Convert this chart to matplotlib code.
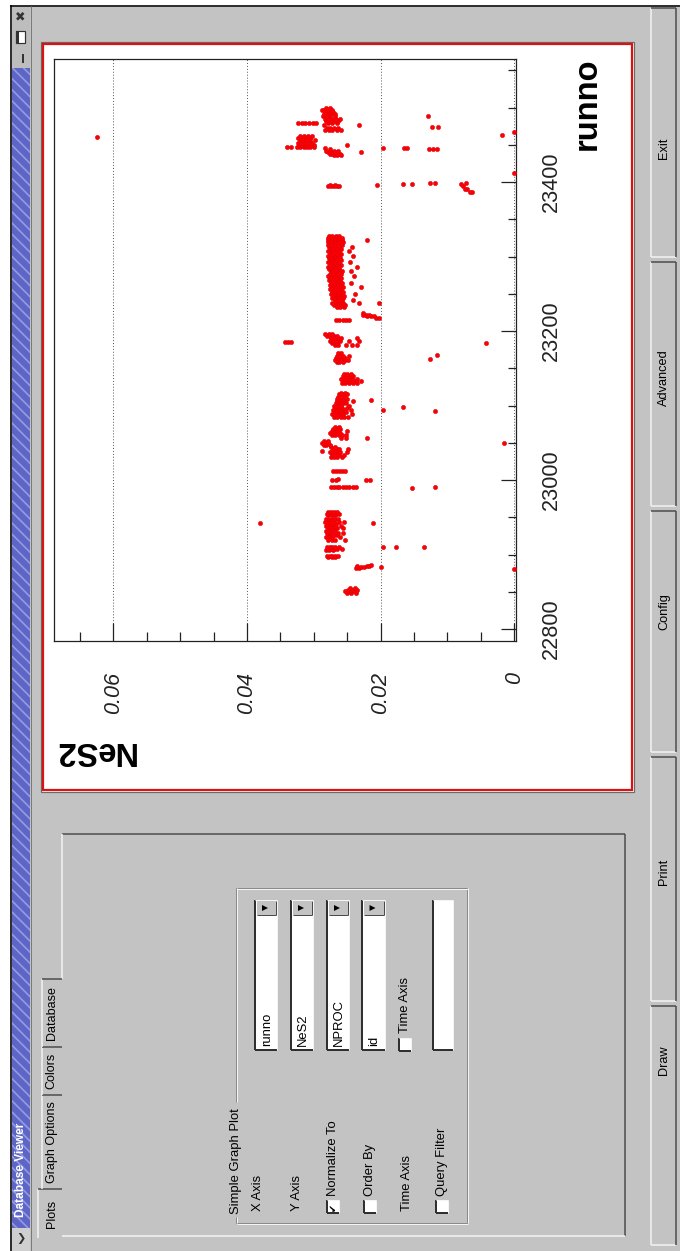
import matplotlib
matplotlib.use("Agg")
import matplotlib.pyplot as plt
from matplotlib.patches import Rectangle, Polygon

plt.rcParams['font.family'] = ['Liberation Sans', 'DejaVu Sans']
plt.rcParams['hatch.linewidth'] = 1.2

# ---- data (runno -> NeS2 values) ----
run_ids = [22849, 22851, 22853, 22855, 22880, 22882, 22883, 22885, 22886,
           22896, 22898, 22906, 22908, 22910, 22920, 22923, 22926, 22929,
           22932, 22935, 22938, 22941, 22942, 22944, 22947, 22953, 22955, 22957,
           22989, 22990, 22991, 23000, 23001, 23012, 23031, 23034, 23037, 23039,
           23042, 23044, 23047, 23050, 23053, 23056, 23060, 23063, 23066, 23069,
           23071, 23085, 23088, 23091, 23093, 23094, 23097, 23098, 23100, 23103,
           23106, 23107, 23109, 23112, 23115, 23117, 23130, 23133, 23136, 23139,
           23142, 23158, 23161, 23163, 23164, 23167, 23168, 23170, 23181, 23184,
           23185, 23187, 23190, 23193, 23196, 23215, 23218, 23220, 23222, 23224,
           23232, 23235, 23237, 23238, 23241, 23244, 23247, 23250, 23253, 23256,
           23259, 23262, 23265, 23268, 23271, 23274, 23277, 23280, 23283, 23286,
           23289, 23292, 23295, 23298, 23301, 23304, 23307, 23310, 23313, 23316,
           23319, 23322, 23325, 23328,
           23387, 23390, 23394, 23396, 23397, 23399, 23412, 23436, 23438, 23440,
           23442, 23444, 23445, 23447, 23450, 23453, 23456, 23459, 23460, 23462,
           23463, 23467, 23470, 23473, 23474, 23476, 23479, 23482, 23485, 23488,
           23491, 23494, 23497, 23500]

nes2_by_run = [
    [0.0237, 0.0244, 0.0250], [0.0240, 0.0247, 0.0253], [0.0236, 0.0243, 0.0249],
    [0.0239, 0.0246], [0.0001], [0.0237, 0.0233], [0.0229, 0.0225, 0.0199],
    [0.0221, 0.0217, 0.0236], [0.0214],
    [0.0278, 0.0273, 0.0269], [0.0280, 0.0276, 0.0272, 0.0268, 0.0264],
    [0.0281, 0.0277, 0.0271], [0.0279, 0.0274, 0.0270, 0.0265, 0.0258],
    [0.0280, 0.0276, 0.0272, 0.0268, 0.0263, 0.0196, 0.0177, 0.0135],
    [0.0278, 0.0273, 0.0269, 0.0254], [0.0281, 0.0277, 0.0272, 0.0261],
    [0.0279, 0.0275, 0.0270, 0.0266], [0.0280, 0.0276, 0.0272, 0.0264, 0.0256],
    [0.0282, 0.0278, 0.0273, 0.0268], [0.0279, 0.0274, 0.0270, 0.0266, 0.0257],
    [0.0281, 0.0277, 0.0273, 0.0268, 0.0260], [0.0280, 0.0276, 0.0271, 0.0267],
    [0.0380, 0.0211], [0.0283, 0.0279, 0.0275, 0.0270, 0.0262, 0.0255],
    [0.0281, 0.0277, 0.0272, 0.0268, 0.0264], [0.0278, 0.0273, 0.0268],
    [0.0280, 0.0276, 0.0271, 0.0267, 0.0263], [0.0279, 0.0274, 0.0270, 0.0266],
    [0.0153], [0.0274, 0.0270, 0.0266, 0.0262, 0.0257, 0.0252, 0.0247, 0.0242, 0.0237],
    [0.0118], [0.0272, 0.0267, 0.0222, 0.0216], [0.0264],
    [0.0271, 0.0267, 0.0263, 0.0258, 0.0254], [0.0274, 0.0270, 0.0265, 0.0258],
    [0.0272, 0.0268, 0.0263, 0.0255], [0.0275, 0.0270, 0.0266, 0.0261, 0.0250],
    [0.0287, 0.0273, 0.0268], [0.0271, 0.0266, 0.0262, 0.0249], [0.0274, 0.0269],
    [0.0285, 0.0281, 0.0276], [0.0287, 0.0283, 0.0278, 0.0016], [0.0284, 0.0279],
    [0.0259, 0.0252, 0.0220], [0.0272, 0.0268, 0.0263, 0.0258, 0.0252],
    [0.0275, 0.0270, 0.0266, 0.0261], [0.0273, 0.0268, 0.0264, 0.0250],
    [0.0271, 0.0266, 0.0261], [0.0268, 0.0262],
    [0.0270, 0.0265, 0.0260, 0.0255, 0.0249], [0.0272, 0.0267, 0.0262, 0.0257, 0.0243],
    [0.0269, 0.0264, 0.0259, 0.0252], [0.0118],
    [0.0271, 0.0266, 0.0261, 0.0255, 0.0245, 0.0197], [0.0268, 0.0263, 0.0258, 0.0250],
    [0.0166], [0.0270, 0.0265, 0.0260, 0.0247], [0.0267, 0.0262, 0.0257, 0.0252],
    [0.0265, 0.0260, 0.0255, 0.0242], [0.0215], [0.0266, 0.0261, 0.0256, 0.0250],
    [0.0264, 0.0259, 0.0253], [0.0262, 0.0257, 0.0251], [0.0259, 0.0254],
    [0.0258, 0.0253, 0.0248, 0.0242, 0.0236], [0.0256, 0.0251, 0.0246, 0.0240, 0.0229],
    [0.0259, 0.0254, 0.0249, 0.0243, 0.0235], [0.0257, 0.0252, 0.0246, 0.0241],
    [0.0255, 0.0250, 0.0244], [0.0266, 0.0262, 0.0257],
    [0.0268, 0.0264, 0.0259, 0.0254, 0.0249], [0.0126], [0.0267, 0.0263, 0.0258, 0.0253],
    [0.0265, 0.0261, 0.0256, 0.0248], [0.0115], [0.0264, 0.0259],
    [0.0269, 0.0264, 0.0252, 0.0243, 0.0236], [0.0272, 0.0266, 0.0043],
    [0.0343, 0.0338, 0.0334], [0.0276, 0.0271, 0.0266, 0.0261, 0.0247, 0.0232],
    [0.0274, 0.0269, 0.0264, 0.0259, 0.0236], [0.0280, 0.0275, 0.0270, 0.0265],
    [0.0283, 0.0277, 0.0272], [0.0267, 0.0262, 0.0257, 0.0252, 0.0247],
    [0.0207, 0.0202], [0.0220, 0.0215, 0.0210], [0.0226, 0.0222, 0.0217], [0.0227],
    [0.0266, 0.0261, 0.0255], [0.0270, 0.0265, 0.0260, 0.0254], [0.0202, 0.0232],
    [0.0272, 0.0267, 0.0262, 0.0257], [0.0269, 0.0264, 0.0258, 0.0241],
    [0.0273, 0.0268, 0.0263, 0.0256], [0.0271, 0.0266, 0.0261, 0.0255],
    [0.0274, 0.0269, 0.0264, 0.0258, 0.0238], [0.0272, 0.0267, 0.0262, 0.0256],
    [0.0275, 0.0270, 0.0265, 0.0259], [0.0273, 0.0268, 0.0263, 0.0257, 0.0229],
    [0.0276, 0.0271, 0.0266, 0.0260], [0.0274, 0.0269, 0.0264, 0.0258, 0.0244],
    [0.0277, 0.0272, 0.0267, 0.0261], [0.0275, 0.0270, 0.0265, 0.0259],
    [0.0278, 0.0273, 0.0268, 0.0262, 0.0240], [0.0276, 0.0271, 0.0266, 0.0260],
    [0.0274, 0.0269, 0.0264, 0.0258, 0.0245], [0.0277, 0.0272, 0.0267, 0.0262],
    [0.0279, 0.0274, 0.0269, 0.0263, 0.0236], [0.0276, 0.0271, 0.0266, 0.0260],
    [0.0278, 0.0273, 0.0268, 0.0262, 0.0246], [0.0275, 0.0270, 0.0265, 0.0259],
    [0.0277, 0.0272, 0.0267, 0.0261], [0.0279, 0.0274, 0.0269, 0.0263, 0.0242],
    [0.0276, 0.0271, 0.0266, 0.0260], [0.0278, 0.0273, 0.0268, 0.0262, 0.0248],
    [0.0275, 0.0270, 0.0265, 0.0259], [0.0277, 0.0272, 0.0267, 0.0261, 0.0243],
    [0.0279, 0.0274, 0.0269, 0.0264, 0.0258], [0.0278, 0.0273, 0.0268, 0.0263, 0.0257],
    [0.0279, 0.0274, 0.0269, 0.0264, 0.0258, 0.0220],
    [0.0278, 0.0273, 0.0268, 0.0263, 0.0258], [0.0277, 0.0272, 0.0267, 0.0262],
    [0.0063, 0.0067], [0.0071, 0.0074], [0.0278, 0.0274, 0.0270, 0.0266, 0.0262, 0.0077],
    [0.0205, 0.0276, 0.0268], [0.0166, 0.0153, 0.0080], [0.0126, 0.0118, 0.0072],
    [0.0000], [0.0270, 0.0265, 0.0259], [0.0276, 0.0272, 0.0266, 0.0261],
    [0.0278, 0.0273, 0.0268, 0.0229], [0.0282, 0.0270, 0.0264],
    [0.0128, 0.0122, 0.0116, 0.0275], [0.0283, 0.0196, 0.0165, 0.0160],
    [0.0340, 0.0334, 0.0325, 0.0320, 0.0315, 0.0310, 0.0305, 0.0299],
    [0.0322, 0.0317, 0.0312, 0.0306, 0.0300, 0.0251],
    [0.0324, 0.0319, 0.0314, 0.0308, 0.0302], [0.0321, 0.0316, 0.0311, 0.0305, 0.0298],
    [0.0323, 0.0318, 0.0312, 0.0306], [0.0625], [0.0320, 0.0315, 0.0309, 0.0303],
    [0.0019], [0.0000], [0.0283, 0.0277, 0.0272, 0.0266, 0.0260],
    [0.0280, 0.0275, 0.0270, 0.0264], [0.0123, 0.0114], [0.0232, 0.0284],
    [0.0323, 0.0318, 0.0313, 0.0307, 0.0301, 0.0296, 0.0278, 0.0272, 0.0266],
    [0.0281, 0.0276, 0.0270, 0.0264], [0.0283, 0.0278, 0.0273, 0.0267, 0.0261],
    [0.0286, 0.0280, 0.0275, 0.0268, 0.0129], [0.0284, 0.0279, 0.0274, 0.0268],
    [0.0282, 0.0277, 0.0271], [0.0288, 0.0284, 0.0279, 0.0273], [0.0281, 0.0276],
]

runno_ticks = [22800, 23000, 23200, 23400]
nes2_ticks = [0, 0.02, 0.04, 0.06]
nes2_labels = ['0', '0.02', '0.04', '0.06']

tabs = ['Plots', 'Graph Options', 'Colors', 'Database']
row_labels = ['X Axis', 'Y Axis', 'Normalize To', 'Order By', 'Time Axis', 'Query Filter']
combo_values = ['runno', 'NeS2', 'NPROC', 'id']
buttons = ['Exit', 'Advanced', 'Config', 'Print', 'Draw']

# ---- figure, drawn in screen pixels (the screenshot is turned 90 degrees) ----
W, H = 680, 1251
GRAY = '#c3c3c3'
DARK = '#4a4a4a'
LIGHT = '#f4f4f4'
fig = plt.figure(figsize=(W / 100, H / 100), dpi=100)
fig.patch.set_facecolor(GRAY)
gui = fig.add_axes([0, 0, 1, 1], zorder=0)
gui.set_xlim(0, W)
gui.set_ylim(H, 0)
gui.axis('off')
PX = 0.72  # one pixel in points


def box(x0, y0, x1, y1, fc='none', ec='none', lw=1.0, z=1, **kw):
    gui.add_patch(Rectangle((x0, y0), x1 - x0, y1 - y0, facecolor=fc,
                            edgecolor=ec, lw=lw * PX, zorder=z, **kw))


def seg(x0, y0, x1, y1, c, lw=1.0, z=2):
    gui.plot([x0, x1], [y0, y1], color=c, lw=lw * PX, zorder=z,
             solid_capstyle='butt')


def raised(x0, y0, x1, y1, lw=1.0):
    seg(x0, y0, x0, y1, LIGHT, lw)
    seg(x0, y1, x1, y1, LIGHT, lw)
    seg(x0, y0, x1, y0, DARK, lw)
    seg(x1, y0, x1, y1, DARK, lw)


def sunken(x0, y0, x1, y1, fc='white'):
    box(x0, y0, x1, y1, fc=fc)
    seg(x0, y0, x0, y1, '#303030', 2)
    seg(x0, y1, x1, y1, '#303030', 2)
    seg(x0, y0, x1, y0, LIGHT, 1)
    seg(x1, y0, x1, y1, LIGHT, 1)


def vtext(x, y, s, size=9.4, va='bottom', **kw):
    gui.text(x, y, s, rotation=90, ha='center', va=va, fontsize=size,
             color='black', zorder=5, **kw)


# outside of the window and its frame
box(0, 0, W, 5, fc='white', z=0.5)
box(0, 0, 10, H, fc='white', z=0.5)
seg(10.5, 5, 10.5, H, 'black', 1.5)
seg(10, 5.5, W, 5.5, 'black', 1.5)

# title bar on the left
box(11.5, 6, 30, 68, fc='#bdbdbd', z=1)
box(11.5, 68, 30, 1228, fc='#5d66c6', ec='#959be0', lw=0, hatch='\\\\\\', z=1)
box(11.5, 1228, 30, H, fc='#cfcfcf', z=1)
seg(30.5, 6, 30.5, H, '#7a7a7a', 1)
gui.text(20.5, 17, '\u2716', ha='center', va='center', fontsize=9,
         family='DejaVu Sans', color='#333333', zorder=5)
box(16, 31, 25, 43, fc='white', ec='#333333', lw=1.2, z=3)
box(16, 31, 19, 43, fc='#333333', z=3)
box(21.5, 54, 24, 63, fc='#333333', z=3)
gui.text(20.5, 1239, '\u276F', ha='center', va='center', fontsize=8,
         family='DejaVu Sans', color='#333333', zorder=5, fontweight='bold')
gui.text(21, 1217, 'Database Viewer', rotation=90, ha='center', va='bottom',
         fontsize=8.6, fontweight='bold', color='white', zorder=5)

# embedded canvas with the red frame
box(41, 42, 634, 792, fc='white', ec='#6a6a6a', lw=1.2, z=1)
box(43, 44, 632, 790, fc='none', ec='#dd1111', lw=2.2, z=2)

# tab panel
seg(62, 834, 625, 834, DARK, 1.5)
seg(625, 834, 625, 1236, DARK, 1.5)
seg(62, 834, 62, 979, LIGHT, 1.5)
seg(62, 1236, 625, 1236, LIGHT, 1.5)
tab_edges = [(1189, 1238), (1095, 1189), (1047, 1095), (979, 1047)]
for name, (t0, t1) in zip(tabs, tab_edges):
    x0 = 38 if name == 'Plots' else 42
    box(x0, t0, 62, t1, fc=GRAY, z=1)
    seg(x0, t0, x0, t1, LIGHT, 1.5)
    seg(x0, t0, 62, t0, DARK, 1.5)
    vtext(51.5, (t0 + t1) / 2, name, size=9, va='center')

# group box
for off, c in [(0, '#8a8a8a'), (1, LIGHT)]:
    seg(467 + off, 888, 467 + off, 1223, c, 1)
    seg(236 + off, 888 + off, 467 + off, 888 + off, c, 1)
    seg(236 + off, 1223 + off, 467 + off, 1223 + off, c, 1)
    seg(236 + off, 888, 236 + off, 1102, c, 1)
    seg(236 + off, 1217, 236 + off, 1223, c, 1)
vtext(236, 1214, 'Simple Graph Plot')

label_x = [258, 297, 333, 370, 407, 442]
checked = {'Normalize To': True, 'Order By': False, 'Query Filter': False}
for name, x in zip(row_labels, label_x):
    if name in checked:
        sunken(x - 6, 1200, x + 6, 1213)
        if checked[name]:
            gui.text(x, 1206.5, '\u2714', rotation=90, ha='center', va='center',
                     fontsize=7, family='DejaVu Sans', color='black', zorder=5)
        vtext(x, 1196, name)
    else:
        vtext(x, 1211, name)

combo_x = [(255, 277), (291, 313), (327, 349), (362, 385)]
for val, (x0, x1) in zip(combo_values, combo_x):
    sunken(x0, 900, x1, 1050)
    box(x0 + 2, 901, x1 - 1, 915, fc=GRAY, z=2)
    seg(x0 + 2, 915, x1 - 1, 915, DARK, 1)
    seg(x1 - 1, 901, x1 - 1, 915, DARK, 1)
    xm = (x0 + x1) / 2
    gui.add_patch(Polygon([[xm - 4, 905], [xm - 4, 911], [xm + 2, 908]],
                          closed=True, fc='black', ec='none', zorder=3))
    vtext(xm + 1, 1046, val)

sunken(399, 1038, 411, 1051)
vtext(405, 1033, 'Time Axis')
sunken(433, 900, 453, 1050)

# buttons along the right edge
btn_edges = [(8, 257), (262, 506), (511, 752), (757, 1001), (1006, 1245)]
btn_label_y = [148, 378, 612, 872, 1060]
for name, (b0, b1), ly in zip(buttons, btn_edges, btn_label_y):
    raised(651, b0, 676, b1, lw=1.5)
    vtext(664, ly, name, size=9.2, va='center')

# ---- the plot itself ----
fx0, fx1, fy0, fy1 = 54, 516, 59, 641
ax = fig.add_axes([fx0 / W, 1 - fy1 / H, (fx1 - fx0) / W, (fy1 - fy0) / H], zorder=2)
ax.set_facecolor('white')

xs, ys = [], []
for r, vals in zip(run_ids, nes2_by_run):
    for v in vals:
        xs.append(v)
        ys.append(r)
ax.plot(xs, ys, 'o', ms=3.0, mfc='#ff0000', mec='#e00010', mew=0.4,
        linestyle='none', zorder=3)

ax.set_xlim(0.06886, -0.00025)
ax.set_ylim(22783.9, 23565.1)

ax.set_xticks(nes2_ticks, labels=nes2_labels)
ax.set_xticks([0.005 * i for i in range(1, 14)], minor=True)
ax.set_yticks(runno_ticks)
ax.set_yticks([22800 + 50 * i for i in range(0, 16)], minor=True)
ax.yaxis.tick_right()
ax.grid(axis='x', which='major', color='#555555', lw=0.7,
        linestyle=(0, (1, 2)), zorder=1)

ax.tick_params(axis='x', which='major', direction='in', length=13, width=0.9,
               pad=22, labelsize=15.6, labelrotation=90, colors='#222222')
ax.tick_params(axis='x', which='minor', direction='in', length=6.5, width=0.9,
               colors='#222222')
ax.tick_params(axis='y', which='major', direction='in', length=10.8, width=0.9,
               pad=18, labelsize=15.6, labelrotation=90, colors='#222222')
ax.tick_params(axis='y', which='minor', direction='in', length=5.8, width=0.9,
               colors='#222222')
for t in ax.get_xticklabels():
    t.set_fontstyle('italic')
    t.set_va('top')
for t in ax.get_yticklabels():
    t.set_va('center')
for sp in ax.spines.values():
    sp.set_color('#222222')
    sp.set_linewidth(0.9)

gui.text(587, 58, 'runno', rotation=90, ha='center', va='top', fontsize=23.5,
         fontweight='bold', color='black', zorder=5)
gui.text(53, 751, 'NeS2', rotation=180, ha='left', va='center', fontsize=23.5,
         fontweight='bold', color='black', zorder=5)

fig.savefig('out.png', dpi=100, facecolor=fig.get_facecolor())
